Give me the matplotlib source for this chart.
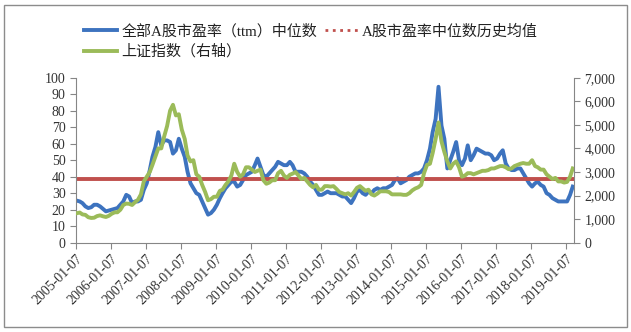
import pandas as pd
import matplotlib.pyplot as plt
from matplotlib.lines import Line2D
from matplotlib.patches import Rectangle

plt.rcParams['font.family'] = ['Liberation Serif', 'Noto Sans CJK SC']

# 月度数据 (2005-01 ~ 2019-03)
pe_median = [
    25.5, 25, 24, 22, 21, 21.5, 23, 23, 22, 20.5, 19, 19.5,   # 2005
    20, 20.5, 21, 23, 25, 29, 28, 24, 25, 25, 26, 32,         # 2006
    36, 44, 52, 58, 67, 59, 62, 62, 61, 54, 56, 63,           # 2007
    57, 52, 43, 36, 33, 30, 29, 25, 21, 17, 18, 20,           # 2008
    23, 27, 30, 33, 35, 37, 37, 34, 35, 38, 41, 42,           # 2009
    43, 47, 51, 46, 41, 40, 42, 44, 46, 49, 48, 47,           # 2010
    47, 49, 47, 43, 43, 43, 42, 40, 37, 35, 32, 29,           # 2011
    29, 30, 31, 30, 30, 30, 29, 28, 28, 26, 24, 27,           # 2012
    31, 32, 30, 29, 31, 30, 32, 33, 32, 33, 33, 34,           # 2013
    35, 38, 39, 36, 37, 38, 40, 41, 42, 42, 43, 45,           # 2014
    50, 57, 67, 75, 94.5, 71, 63, 45, 50, 55, 61, 50,         # 2015
    47, 51, 59, 50, 53, 57, 56, 55, 54, 54, 53, 50,           # 2016
    51, 54, 56, 48, 45, 44, 44, 45, 45, 42, 39, 36,           # 2017
    34, 36, 37, 35, 34, 30, 29, 27, 26, 25, 25, 25,           # 2018
    25, 29, 34,                                               # 2019
]
sh_index = [
    1250, 1280, 1200, 1180, 1080, 1050, 1060, 1130, 1160, 1120, 1090, 1140,
    1230, 1290, 1290, 1400, 1600, 1660, 1650, 1600, 1720, 1820, 2050, 2600,
    2800, 3000, 3300, 3650, 4000, 4000, 4500, 4950, 5600, 5850, 5400, 5450,
    4800, 4400, 3700, 3450, 3500, 2900, 2800, 2450, 2150, 1800, 1850, 1950,
    1950, 2200, 2250, 2450, 2600, 2850, 3350, 3000, 2800, 2900, 3200, 3200,
    3100, 3000, 3050, 3100, 2650, 2500, 2550, 2650, 2650, 2950, 3050, 2850,
    2750, 2880, 2930, 3000, 2850, 2700, 2750, 2600, 2450, 2350, 2450, 2250,
    2250, 2400, 2400, 2380, 2400, 2280, 2150, 2100, 2050, 2100, 2000, 2150,
    2330, 2400, 2300, 2200, 2250, 2050, 2000, 2080, 2180, 2180, 2180, 2150,
    2050, 2050, 2050, 2050, 2030, 2030, 2100, 2220, 2300, 2350, 2450, 2950,
    3300, 3350, 3800, 4400, 5100, 4300, 3850, 3450, 3150, 3350, 3450, 3200,
    2800, 2850, 2950, 2950, 2900, 2950, 3000, 3050, 3050, 3080, 3150, 3150,
    3200, 3250, 3250, 3200, 3120, 3150, 3250, 3300, 3350, 3380, 3350, 3350,
    3500, 3250, 3200, 3100, 3100, 2900, 2800, 2700, 2750, 2600, 2600, 2550,
    2580, 2800, 3150,
]
pe_hist_mean = 38.6
tick_labels = [f'{y}-01-07' for y in range(2005, 2020)]

dates = pd.date_range('2005-01-01', '2019-03-01', freq='MS') + pd.Timedelta(days=14)

c_blue = '#3d73bf'
c_red = '#c0504d'
c_green = '#9bbb59'
c_axis = '#868686'

fig = plt.figure(figsize=(6.31, 3.32), dpi=100)
ax1 = fig.add_axes([76 / 631, 1 - 242.7 / 332, (574 - 76) / 631, (242.7 - 77.7) / 332])
ax2 = ax1.twinx()

ax1.plot(dates, pe_median, color=c_blue, lw=2.8, solid_joinstyle='round')
ax1.plot(dates, [pe_hist_mean] * len(dates), color=c_red, lw=2.8)
ax2.plot(dates, sh_index, color=c_green, lw=2.8, solid_joinstyle='round')

ax1.set_ylim(0, 100)
ax1.set_yticks(range(0, 101, 10))
ax2.set_ylim(0, 7000)
ax2.set_yticks(range(0, 7001, 1000))
ax2.set_yticklabels([f'{v:,}' for v in range(0, 7001, 1000)])

ax1.set_xlim(pd.Timestamp('2005-01-07'), pd.Timestamp('2019-03-28'))
ax1.set_xticks(pd.to_datetime(tick_labels))
ax1.set_xticklabels(tick_labels, rotation=45, ha='right', rotation_mode='anchor')

for ax in (ax1, ax2):
    ax.spines['top'].set_visible(False)
    for s in ('left', 'right', 'bottom'):
        ax.spines[s].set_color(c_axis)
    ax.tick_params(colors=c_axis, labelcolor='#333333', labelsize=10, length=4, width=0.8)
ax1.spines['right'].set_visible(False)
ax2.spines['left'].set_visible(False)
ax2.spines['bottom'].set_visible(False)
ax1.tick_params(axis='x', pad=3)

handles = [
    Line2D([], [], color=c_blue, lw=2.8),
    Line2D([], [], color=c_green, lw=2.8),
    Line2D([], [], color=c_red, lw=2, linestyle=':'),
]
labels = ['全部A股市盈率（ttm）中位数', '上证指数（右轴）', 'A股市盈率中位数历史均值']
fig.legend(handles, labels, loc='upper left', bbox_to_anchor=(84 / 631, 1 - 24 / 332),
           ncol=2, frameon=False, fontsize=10.8, handlelength=2.2, handletextpad=0.3,
           columnspacing=0.5, labelspacing=0.4, borderpad=0, borderaxespad=0,
           labelcolor='#222222')

fig.patches.append(Rectangle((4 / 631, 5 / 332), 623 / 631, 322 / 332, transform=fig.transFigure,
                             fill=False, edgecolor='#8c8c8c', lw=1))

fig.savefig('out.png', dpi=100)
